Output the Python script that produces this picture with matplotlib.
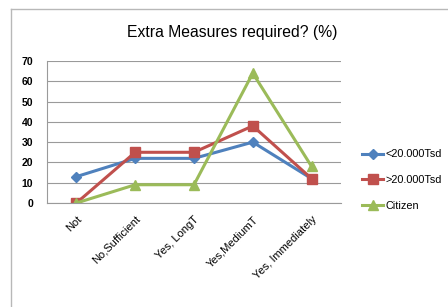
import matplotlib
matplotlib.use("Agg")
import matplotlib.pyplot as plt
from matplotlib.lines import Line2D

categories = ["Not", "No,Sufficient", "Yes, LongT", "Yes,MediumT", "Yes, Immediately"]
small_towns = [13, 22, 22, 30, 12]
big_towns = [0, 25, 25, 38, 12]
citizen = [0, 9, 9, 64, 18]
series_names = ["<20.000Tsd", ">20.000Tsd", "Citizen"]

plt.rcParams['font.family'] = ['Liberation Sans', 'DejaVu Sans']

fig = plt.figure(figsize=(4.48, 3.07), dpi=100)

# light frame around the chart (only top/left visible in original)
fig.add_artist(Line2D([10.5 / 448, 10.5 / 448], [0, 1 - 9 / 307], color="#b8b8b8", lw=1.0))
fig.add_artist(Line2D([10.5 / 448, 1], [1 - 9 / 307, 1 - 9 / 307], color="#b8b8b8", lw=1.0))

ax = fig.add_axes([47 / 448, 1 - 203 / 307, 294 / 448, 142 / 307])

x = range(len(categories))
ax.plot(x, small_towns, color="#4F81BD", lw=2.2, marker="D", ms=5, label=series_names[0])
ax.plot(x, big_towns, color="#C0504D", lw=2.2, marker="s", ms=7, label=series_names[1])
ax.plot(x, citizen, color="#9BBB59", lw=2.2, marker="^", ms=7, label=series_names[2])

ax.set_xlim(-0.5, len(categories) - 0.5)
ax.set_ylim(0, 70)
ax.set_yticks(range(0, 71, 10))
ax.yaxis.grid(True, color="#9a9a9a", lw=0.8)
ax.set_axisbelow(True)
for s in ["top", "right"]:
    ax.spines[s].set_visible(False)
ax.spines["left"].set_color("#9a9a9a")
ax.spines["bottom"].set_color("#9a9a9a")
ax.tick_params(axis="y", length=0, pad=10, labelsize=7.5)
ax.tick_params(axis="x", length=0, pad=8, labelsize=8)
ax.set_xticks(list(x))
ax.set_xticklabels(categories, rotation=45, ha="right", rotation_mode="anchor")
for t in ax.get_yticklabels():
    t.set_fontweight("bold")

fig.text(232 / 448, 1 - 32 / 307, "Extra Measures required? (%)", ha="center", va="center", fontsize=11.3)

fig.legend(loc="upper left", bbox_to_anchor=(358 / 448, 1 - 145 / 307), frameon=False,
           fontsize=7.8, handlelength=1.9, handletextpad=0.2, labelspacing=1.45, borderaxespad=0)

fig.savefig("out.png", dpi=100)
